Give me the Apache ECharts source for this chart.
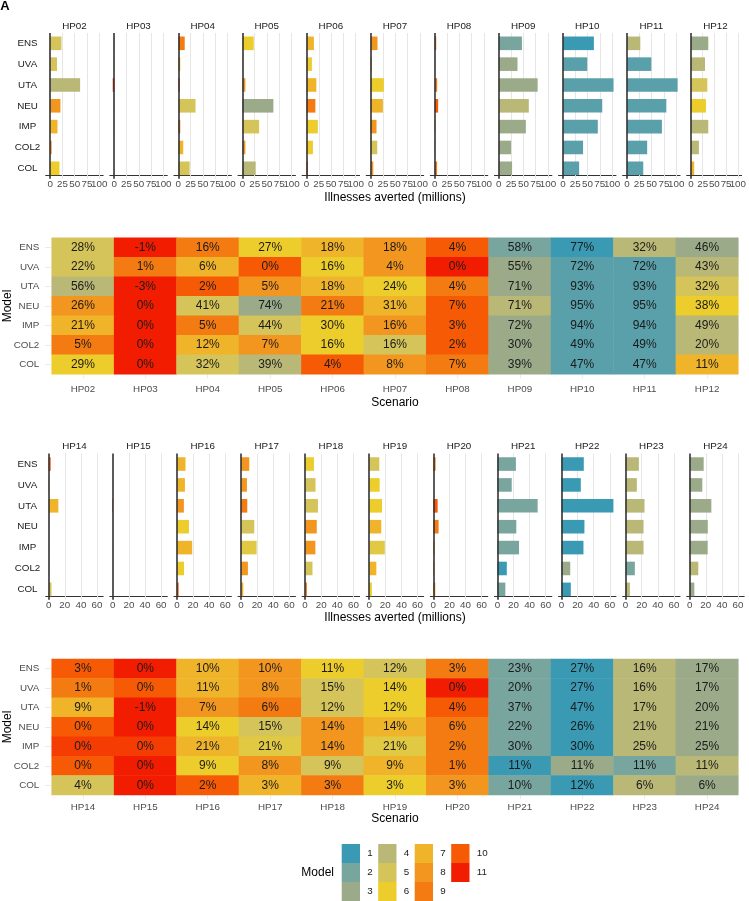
<!DOCTYPE html>
<html><head><meta charset="utf-8">
<script src="https://cdn.jsdelivr.net/npm/echarts@6/dist/echarts.min.js"></script>
<style>html,body{margin:0;padding:0;background:#fff}#c{width:749px;height:901px}</style>
</head><body><div id="c"></div>
<script>
// ---------------- data ----------------
const models = ['ENS','UVA','UTA','NEU','IMP','COL2','COL'];
const scenariosTop = ['HP02','HP03','HP04','HP05','HP06','HP07','HP08','HP09','HP10','HP11','HP12'];
const scenariosBottom = ['HP14','HP15','HP16','HP17','HP18','HP19','HP20','HP21','HP22','HP23','HP24'];

// percent of illnesses averted (rows = models, cols = scenarios)
const pctTop = [
  [28,-1,16,27,18,18,4,58,77,32,46],
  [22,1,6,0,16,4,0,55,72,72,43],
  [56,-3,2,5,18,24,4,71,93,93,32],
  [26,0,41,74,21,31,7,71,95,95,38],
  [21,0,5,44,30,16,3,72,94,94,49],
  [5,0,12,7,16,16,2,30,49,49,20],
  [29,0,32,39,4,8,7,39,47,47,11]
];
const rankTop = [
  [5,11,9,6,7,8,10,2,1,4,3],
  [5,9,7,10,6,8,11,3,1.5,1.5,4],
  [4,11,10,8,7,6,9,3,1.5,1.5,5],
  [8,11,5,3,9,7,10,4,1.5,1.5,6],
  [7,11,9,5,6,8,10,3,1.5,1.5,4],
  [9,11,7,8,6,5,10,3,1.5,1.5,4],
  [6,11,5,4,10,8,9,3,1.5,1.5,7]
];
// illnesses averted (millions)
const avertedTop = [
  [23,-0.5,13,23,15,14,3,47,63,27,37],
  [14,0.5,4,0.2,11,2,0.1,38,49.5,49.5,30],
  [61,-3,3,6,20,27,5,79,103,103,35],
  [21,0.2,35,63,18,25,7,61,80,80,32],
  [15,0.2,4,34,23,12,1,55,71,71,37],
  [3,0.1,10,6,13,13.5,0.5,25,41,41,17],
  [19,0.1,23,27,3,5.5,4.8,27,33,33,7]
];

const pctBottom = [
  [3,0,10,10,11,12,3,23,27,16,17],
  [1,0,11,8,15,14,0,20,27,16,17],
  [9,-1,7,6,12,12,4,37,47,17,20],
  [0,0,14,15,14,14,6,22,26,21,21],
  [0,0,21,21,14,21,2,30,30,25,25],
  [0,0,9,8,9,9,1,11,11,11,11],
  [4,0,2,3,3,3,3,10,12,6,6]
];
const rankBottom = [
  [10,11,7,8,6,5,9,2,1,4,3],
  [9,10,7,8,5,6,11,2,1,4,3],
  [7,11,8,9,5,6,10,2,1,4,3],
  [10,11,6,5,8,7,9,2,1,4,3],
  [10.5,10.5,7,5.5,8,5.5,9,2,1,4,3],
  [10,11,6,8,5,7,9,1,3,2,4],
  [5,11,10,7,9,6,8,2,1,4,3]
];
const avertedBottom = [
  [2.5,0,10.7,10.3,11,12.6,2.9,23,27.7,16.5,17.4],
  [0.5,0.1,10,7.4,13,13,0.05,17.8,24,14,15.7],
  [12,-0.6,8.7,7.8,16,15.9,5.4,50,64.5,23.5,26.9],
  [0.1,0.05,15,16.5,14.5,15,6.6,23.5,28.5,22.3,22.5],
  [0.1,0.1,19,19.4,12.8,19.4,1.2,26.9,27.3,22.3,22.4],
  [0.2,0.05,8.9,8.6,9.2,8.9,0.8,11.7,10.9,11.5,10.7],
  [3.5,0.05,2.2,2.9,2.3,3.3,2.5,9.9,11.6,5.4,5.8]
];

const xTicksTop = [0,25,50,75,100];
const xTicksBottom = [0,20,40,60];
const legendRanks = [1,2,3,4,5,6,7,8,9,10,11];
const palette = ['#3A9AB4','#79A59F','#9BAB8A','#BAB877','#D5C45A','#ECCD2C','#F0B42A','#F3961F','#F47B12','#F65A05','#F21D00'];

// ---------------- helpers ----------------
function hex2rgb(h){return [parseInt(h.slice(1,3),16),parseInt(h.slice(3,5),16),parseInt(h.slice(5,7),16)];}
function rankColor(r){
  const lo=Math.floor(r), hi=Math.ceil(r), t=r-lo;
  const a=hex2rgb(palette[lo-1]), b=hex2rgb(palette[hi-1]);
  const c=a.map((v,k)=>Math.round(v+(b[k]-v)*t));
  return 'rgb('+c.join(',')+')';
}
const FONT = '"Liberation Sans", Arial, sans-serif';
const grids=[], xAxes=[], yAxes=[], series=[], graphics=[];
const PANEL_W=57.5, PITCH=64.1, LEFT0=45.7;

function txt(text,x,y,opt){
  opt=opt||{};
  graphics.push({type:'text',x:x,y:y,rotation:opt.rot||0,silent:true,
    style:{text:text,fill:opt.color||'#1a1a1a',fontSize:opt.size||9.6,fontFamily:FONT,fontWeight:opt.weight||'normal',
      align:opt.align||'center',verticalAlign:'middle',textAlign:opt.align||'center',textVerticalAlign:'middle'}});
}

function addBarRow(scen, averted, rank, top, height, xmin, xmax, ticks, axisOffset, titleY){
  // padding values at both ends (empty labels) so the real end labels are never auto-hidden
  const labelVals=[xmin+1].concat(ticks,[xmax-1]);
  scen.forEach((s,j)=>{
    const gi=grids.length;
    const left=LEFT0+PITCH*j;
    grids.push({left:left,top:top,width:PANEL_W,height:height});
    xAxes.push({type:'value',gridIndex:gi,min:xmin,max:xmax,offset:axisOffset,
      axisLine:{show:true,onZero:false,lineStyle:{color:'#333333',width:1}},
      axisTick:{show:false},splitLine:{show:false},
      axisLabel:{customValues:labelVals,color:'#4d4d4d',fontSize:9.8,margin:4,fontFamily:FONT,
        formatter:v=>ticks.indexOf(v)>=0?String(v):'',
        showMinLabel:false,showMaxLabel:false,hideOverlap:false}});
    yAxes.push({type:'category',gridIndex:gi,data:models,inverse:true,
      axisLine:{show:false},axisTick:{show:false},splitLine:{show:false},
      axisLabel:{show:j===0,color:'#1a1a1a',fontSize:9.8,fontFamily:FONT,align:'center',margin:18.2}});
    // grid lines (behind bars)
    series.push({type:'line',xAxisIndex:gi,yAxisIndex:gi,data:[],silent:true,
      markLine:{silent:true,symbol:'none',z:1,label:{show:false},animation:false,
        data:ticks.filter(t=>t!==0).map(t=>({xAxis:t})),
        lineStyle:{color:'#e6e6e6',width:1,type:'solid'}}});
    series.push({type:'bar',xAxisIndex:gi,yAxisIndex:gi,barWidth:13.6,z:2,animation:false,
      data:models.map((m,i)=>({value:averted[i][j],itemStyle:{color:rankColor(rank[i][j])}})),
      markLine:{silent:true,symbol:'none',z:5,label:{show:false},animation:false,
        data:[{xAxis:0}],lineStyle:{color:'#333333',width:1.6,type:'solid'}}});
    txt(s,left+PANEL_W/2,titleY,{size:9.8});
  });
}

function addHeat(scen,pct,rank,top,height,labelMargin){
  const gi=grids.length;
  grids.push({left:51.7,top:top,width:686.6,height:height});
  xAxes.push({type:'category',gridIndex:gi,data:scen,
    axisLine:{show:false},axisTick:{show:true,alignWithLabel:true,length:4,lineStyle:{color:'#ebebeb'}},
    splitLine:{show:false},axisLabel:{color:'#4d4d4d',fontSize:9.8,fontFamily:FONT,margin:labelMargin}});
  yAxes.push({type:'category',gridIndex:gi,data:models,inverse:true,
    axisLine:{show:false},axisTick:{show:true,alignWithLabel:true,length:7,lineStyle:{color:'#ebebeb'}},
    splitLine:{show:false},axisLabel:{color:'#4d4d4d',fontSize:9.8,fontFamily:FONT,margin:12.4}});
  const data=[];
  models.forEach((m,i)=>scen.forEach((s,j)=>{
    data.push({value:[j,i,pct[i][j]],itemStyle:{color:rankColor(rank[i][j])}});
  }));
  series.push({type:'heatmap',xAxisIndex:gi,yAxisIndex:gi,data:data,animation:false,
    label:{show:true,formatter:p=>p.value[2]+'%',color:'#1a1a1a',fontSize:12,fontFamily:FONT},
    emphasis:{disabled:true}});
}

// ---------------- layout ----------------
addBarRow(scenariosTop,avertedTop,rankTop,32.9,145.8,-9,108,xTicksTop,-3.7,26);
addBarRow(scenariosBottom,avertedBottom,rankBottom,453.6,146.2,-3.7,67.7,xTicksBottom,-4,446.7);
addHeat(scenariosTop,pctTop,rankTop,237.7,136.6,9.5);
addHeat(scenariosBottom,pctBottom,rankBottom,659,136,7);

txt('Illnesses averted (millions)',395,198,{size:12,color:'#000'});
txt('Illnesses averted (millions)',395,618,{size:12,color:'#000'});
txt('Scenario',395,402.5,{size:12,color:'#000'});
txt('Scenario',395,819,{size:12,color:'#000'});
txt('Model',8,306,{size:12,color:'#000',rot:Math.PI/2});
txt('Model',8,727,{size:12,color:'#000',rot:Math.PI/2});
txt('A',5,6,{size:13,weight:'bold',color:'#000'});

// legend
txt('Model',334,872.5,{size:12,color:'#000',align:'right'});
legendRanks.forEach((r,k)=>{
  const c=Math.floor(k/3), rr=k%3;
  const x=341.7+36.5*c, y=844+19*rr;
  graphics.push({type:'rect',silent:true,shape:{x:x,y:y,width:18.3,height:19},style:{fill:rankColor(r)}});
  txt(String(r),x+25.6,y+9.5,{size:9.8,align:'left'});
});

const chart=echarts.init(document.getElementById('c'),null,{renderer:'canvas'});
chart.setOption({
  backgroundColor:'#ffffff',
  animation:false,
  grid:grids,xAxis:xAxes,yAxis:yAxes,series:series,graphic:graphics
});
</script></body></html>
